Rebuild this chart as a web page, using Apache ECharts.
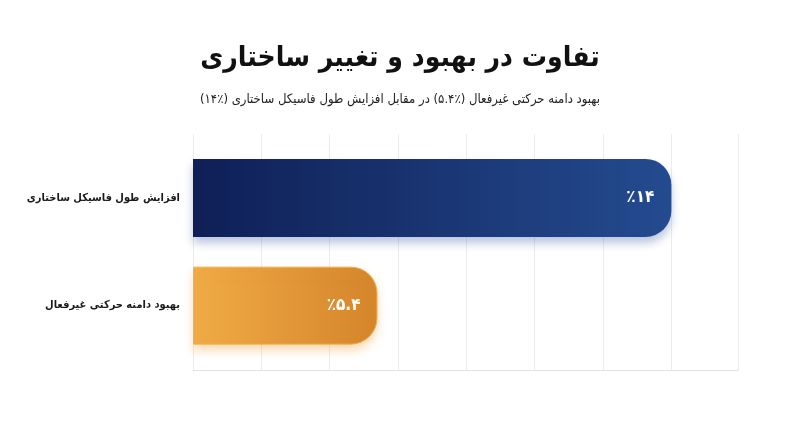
<!DOCTYPE html>
<html>
<head>
<meta charset="utf-8">
<script src="https://cdn.jsdelivr.net/npm/echarts@6/dist/echarts.min.js"></script>
<style>
html,body{margin:0;padding:0;background:#fff;}
#chart{width:800px;height:447px;}
</style>
</head>
<body>
<div id="chart" dir="rtl"></div>
<script>
const titleText = 'تفاوت در بهبود و تغییر ساختاری';
const subtitleText = 'بهبود دامنه حرکتی غیرفعال (٪۵.۴) در مقابل افزایش طول فاسیکل ساختاری (٪۱۴)';
const categories = ['افزایش طول فاسیکل ساختاری', 'بهبود دامنه حرکتی غیرفعال'];
const values = [14, 5.4];
const barLabels = ['٪۱۴', '٪۵.۴'];
const axisMin = 0;
const axisMax = 15.95;
const axisInterval = 2;

const FONT = '"DejaVu Sans Condensed", "DejaVu Sans"';
const barStyles = [
  {
    color: new echarts.graphic.LinearGradient(0, 0, 1, 0, [
      {offset: 0, color: '#0f1f56'},
      {offset: 1, color: '#244b8f'}
    ]),
    borderRadius: [0, 26, 26, 0],
    shadowColor: 'rgba(30,60,140,0.30)',
    shadowBlur: 10,
    shadowOffsetY: 6
  },
  {
    color: new echarts.graphic.LinearGradient(0, 0, 1, 0, [
      {offset: 0, color: '#f0ab45'},
      {offset: 1, color: '#d5852b'}
    ]),
    borderRadius: [0, 26, 26, 0],
    borderColor: '#f3b04f',
    borderWidth: 1,
    shadowColor: 'rgba(240,160,60,0.35)',
    shadowBlur: 10,
    shadowOffsetY: 6
  }
];

const chart = echarts.init(document.getElementById('chart'), null, {renderer: 'canvas'});
chart.setOption({
  backgroundColor: '#ffffff',
  animation: false,
  title: [
    {
      text: titleText,
      left: 'center',
      top: 40,
      textStyle: {fontFamily: FONT, fontSize: 28, fontWeight: 'bold', color: '#111'}
    },
    {
      text: subtitleText,
      left: 'center',
      top: 88,
      textStyle: {fontFamily: FONT, fontSize: 13, fontWeight: 'normal', color: '#222'}
    }
  ],
  grid: [
    {left: 193, right: 62, top: 144, bottom: 87.5, containLabel: false, outerBoundsMode: 'none'},
    {left: 193, right: 62, top: 134, bottom: 77, containLabel: false, outerBoundsMode: 'none'}
  ],
  xAxis: [
    {
      gridIndex: 0, type: 'value', min: axisMin, max: axisMax, interval: axisInterval,
      axisLine: {show: false}, axisTick: {show: false}, axisLabel: {show: false}, splitLine: {show: false}
    },
    {
      gridIndex: 1, type: 'value', min: axisMin, max: axisMax, interval: axisInterval,
      axisLine: {show: true, lineStyle: {color: '#e2e2e2', width: 1}},
      axisTick: {show: false}, axisLabel: {show: false},
      splitLine: {show: true, lineStyle: {color: '#ececec', width: 1}}
    }
  ],
  yAxis: [
    {
      gridIndex: 0, type: 'category', data: categories, inverse: true,
      axisLine: {show: false}, axisTick: {show: false},
      axisLabel: {margin: 13, fontFamily: FONT, fontSize: 11, fontWeight: 'bold', color: '#1a1a1a'}
    },
    {
      gridIndex: 1, type: 'value', min: 0, max: 1, show: false
    }
  ],
  series: [
    {
      type: 'bar',
      xAxisIndex: 0,
      yAxisIndex: 0,
      barWidth: 78,
      data: values.map((v, i) => ({value: v, itemStyle: barStyles[i]})),
      label: {
        show: true,
        position: 'insideRight',
        distance: 17,
        formatter: p => barLabels[p.dataIndex],
        color: '#ffffff',
        fontFamily: FONT,
        fontSize: 17,
        fontWeight: 'bold'
      }
    }
  ]
});
</script>
</body>
</html>
